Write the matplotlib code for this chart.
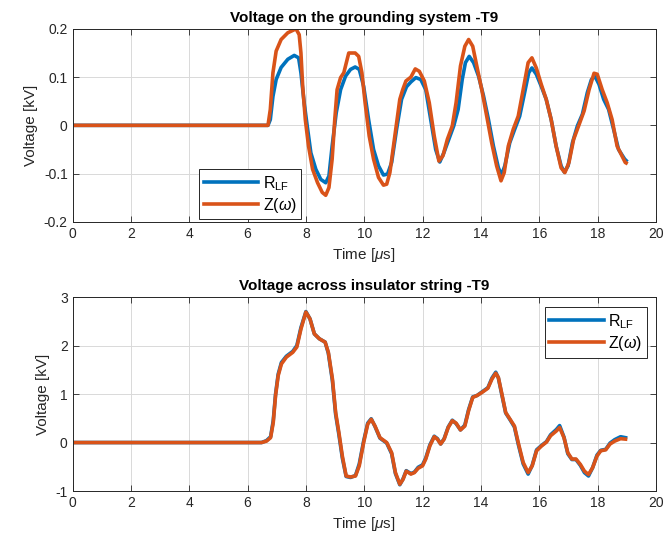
import matplotlib
matplotlib.use("Agg")
import matplotlib.pyplot as plt
import numpy as np

plt.rcParams['font.family'] = ['Liberation Sans', 'DejaVu Sans']
plt.rcParams['mathtext.fontset'] = 'custom'
plt.rcParams['mathtext.rm'] = 'Liberation Sans'
plt.rcParams['mathtext.it'] = 'Liberation Sans:italic'

c_rlf = '#0072BD'
c_z = '#D95319'
ax_col = '#262626'

# grounding system voltage [kV], time in us
t_g_rlf = [0, 6.70, 6.78, 6.87, 6.98, 7.15, 7.38, 7.6, 7.75, 7.83, 7.94, 8.06, 8.17, 8.34,
           8.51, 8.68, 8.79, 8.9, 9.04, 9.19, 9.36, 9.53, 9.69, 9.83, 9.98, 10.15, 10.32,
           10.49, 10.66, 10.8, 10.94, 11.11, 11.28, 11.45, 11.6, 11.77, 11.94, 12.11, 12.28,
           12.45, 12.59, 12.73, 12.9, 13.07, 13.22, 13.36, 13.47, 13.6, 13.75, 13.92, 14.09,
           14.26, 14.43, 14.6, 14.71, 14.82, 14.99, 15.16, 15.33, 15.5, 15.64, 15.75, 15.9,
           16.07, 16.24, 16.41, 16.58, 16.75, 16.86, 16.99, 17.14, 17.31, 17.48, 17.65, 17.79,
           17.91, 18.05, 18.21, 18.38, 18.55, 18.72, 18.93, 18.98]
v_g_rlf = [0, 0, 0.012, 0.06, 0.095, 0.12, 0.137, 0.145, 0.14, 0.109, 0.047, -0.008, -0.057, -0.091,
           -0.112, -0.119, -0.105, -0.043, 0.026, 0.074, 0.102, 0.116, 0.121, 0.116, 0.081, 0.012, -0.05,
           -0.084, -0.103, -0.101, -0.077, -0.008, 0.054, 0.08, 0.09, 0.099, 0.095, 0.074, 0.012,
           -0.05, -0.076, -0.057, -0.029, -0.001, 0.033, 0.095, 0.13, 0.143, 0.13, 0.102, 0.061,
           0.012, -0.043, -0.088, -0.103, -0.084, -0.036, -0.008, 0.019, 0.068, 0.109, 0.119, 0.106,
           0.081, 0.054, 0.012, -0.043, -0.084, -0.097, -0.084, -0.036, -0.001, 0.023, 0.068, 0.095,
           0.102, 0.085, 0.054, 0.033, -0.008, -0.05, -0.07, -0.073]

t_g_z = [0, 6.70, 6.78, 6.87, 6.98, 7.15, 7.38, 7.66, 7.77, 7.83, 7.89, 7.98, 8.09, 8.23, 8.4,
         8.56, 8.68, 8.79, 8.9, 8.99, 9.07, 9.19, 9.3, 9.47, 9.69, 9.81, 9.92, 10.03, 10.17,
         10.32, 10.49, 10.66, 10.77, 10.88, 11.05, 11.22, 11.32, 11.43, 11.6, 11.75, 11.89,
         12.06, 12.23, 12.4, 12.56, 12.7, 12.85, 13.02, 13.15, 13.3, 13.45, 13.58, 13.72,
         13.86, 14.03, 14.2, 14.37, 14.54, 14.69, 14.8, 14.94, 15.11, 15.28, 15.45, 15.62,
         15.75, 15.9, 16.07, 16.24, 16.41, 16.58, 16.75, 16.88, 17.02, 17.18, 17.37, 17.54,
         17.71, 17.88, 17.99, 18.16, 18.33, 18.5, 18.67, 18.95, 18.98]
v_g_z = [0, 0, 0.033, 0.109, 0.154, 0.178, 0.192, 0.2, 0.188, 0.15, 0.081, 0.012, -0.043, -0.091, -0.119,
         -0.139, -0.145, -0.129, -0.07, 0.012, 0.074, 0.099, 0.109, 0.15, 0.15, 0.143, 0.109, 0.047, -0.022,
         -0.07, -0.108, -0.124, -0.122, -0.098, -0.022, 0.054, 0.074, 0.092, 0.1, 0.117, 0.112,
         0.092, 0.047, -0.022, -0.074, -0.063, -0.029, -0.001, 0.047, 0.123, 0.164, 0.178, 0.164,
         0.123, 0.074, 0.019, -0.036, -0.084, -0.115, -0.098, -0.043, -0.008, 0.019, 0.074, 0.13,
         0.14, 0.119, 0.085, 0.054, 0.012, -0.043, -0.088, -0.098, -0.077, -0.029, 0.002, 0.03,
         0.074, 0.108, 0.106, 0.074, 0.047, 0.012, -0.043, -0.077, -0.078]

# insulator string voltage [kV]
t_i = [0, 6.48, 6.65, 6.79, 6.88, 6.96, 7.05, 7.16, 7.33, 7.55, 7.69, 7.83, 8.0, 8.14, 8.29,
       8.46, 8.66, 8.77, 8.91, 9.02, 9.13, 9.25, 9.38, 9.53, 9.7, 9.83, 9.98, 10.12, 10.24,
       10.37, 10.54, 10.77, 10.94, 11.07, 11.22, 11.33, 11.44, 11.6, 11.72, 11.85, 12.0,
       12.11, 12.25, 12.4, 12.51, 12.62, 12.74, 12.88, 13.02, 13.15, 13.3, 13.45, 13.58,
       13.72, 13.87, 14.03, 14.24, 14.38, 14.51, 14.6, 14.72, 14.85, 15.0, 15.15, 15.28,
       15.45, 15.62, 15.76, 15.91, 16.08, 16.25, 16.39, 16.59, 16.7, 16.85, 16.98, 17.12,
       17.26, 17.41, 17.55, 17.69, 17.83, 17.98, 18.11, 18.28, 18.43, 18.59, 18.79, 18.96]
v_i_rlf = [0, 0, 0.04, 0.12, 0.45, 1.0, 1.41, 1.65, 1.78, 1.88, 2.0, 2.37, 2.7, 2.55, 2.24,
           2.14, 2.07, 1.84, 1.27, 0.58, 0.17, -0.32, -0.7, -0.72, -0.68, -0.44, 0.03, 0.4, 0.49,
           0.33, 0.09, -0.01, -0.23, -0.64, -0.87, -0.75, -0.58, -0.64, -0.61, -0.51, -0.46,
           -0.32, -0.05, 0.13, 0.08, -0.03, 0.08, 0.32, 0.46, 0.39, 0.26, 0.36, 0.68,
           0.94, 0.97, 1.04, 1.13, 1.33, 1.45, 1.33, 0.98, 0.61, 0.47, 0.32, -0.03,
           -0.44, -0.65, -0.47, -0.15, -0.06, 0.02, 0.16, 0.27, 0.35, 0.11, -0.23, -0.35,
           -0.35, -0.47, -0.62, -0.69, -0.52, -0.26, -0.16, -0.14, -0.01, 0.06, 0.12, 0.1]
v_i_z = [0, 0, 0.03, 0.1, 0.41, 0.97, 1.38, 1.62, 1.76, 1.86, 1.97, 2.34, 2.69, 2.55, 2.24,
         2.14, 2.07, 1.86, 1.31, 0.62, 0.21, -0.28, -0.69, -0.71, -0.69, -0.48, 0.0, 0.38, 0.48,
         0.34, 0.1, 0.0, -0.21, -0.62, -0.86, -0.76, -0.59, -0.65, -0.62, -0.53, -0.48,
         -0.34, -0.07, 0.12, 0.07, -0.03, 0.07, 0.31, 0.45, 0.4, 0.26, 0.34, 0.66,
         0.93, 0.97, 1.03, 1.12, 1.31, 1.43, 1.34, 1.0, 0.62, 0.48, 0.34, 0.0,
         -0.41, -0.62, -0.48, -0.17, -0.07, 0.01, 0.14, 0.24, 0.31, 0.1, -0.21, -0.34,
         -0.34, -0.45, -0.59, -0.66, -0.52, -0.28, -0.17, -0.15, -0.03, 0.03, 0.08, 0.07]

fig = plt.figure(figsize=(6.72, 5.45), dpi=100)
ax1 = fig.add_axes([0.108, 0.593, 0.868, 0.354])
ax2 = fig.add_axes([0.108, 0.099, 0.868, 0.356])

def style(ax, yticks, ylabels):
    ax.set_xlim(0, 20)
    ax.set_xticks(np.arange(0, 21, 2))
    ax.set_yticks(yticks)
    ax.set_yticklabels(ylabels)
    ax.set_ylim(yticks[0], yticks[-1])
    ax.grid(True, color='#d9d9d9', linewidth=0.7)
    ax.set_axisbelow(True)
    ax.tick_params(direction='in', top=True, right=True, length=4, width=0.6,
                   colors=ax_col, labelsize=10, labelcolor=ax_col)
    for s in ax.spines.values():
        s.set_color(ax_col)
        s.set_linewidth(0.7)
    ax.set_xlabel(r'Time [$\mu$s]', fontsize=11, color=ax_col)
    ax.set_ylabel('Voltage [kV]', fontsize=11, color=ax_col)

def add_legend(ax, loc, anchor):
    leg = ax.legend(loc=loc, bbox_to_anchor=anchor, fontsize=11.5,
                    handlelength=3.4, fancybox=False, edgecolor=ax_col, framealpha=1,
                    borderpad=0.3, labelspacing=0.2, handletextpad=0.3, borderaxespad=0)
    leg.get_frame().set_linewidth(0.7)

lw = 2.6
ax1.plot(t_g_rlf, v_g_rlf, color=c_rlf, lw=lw, label=r'R$_{\mathrm{LF}}$')
ax1.plot(t_g_z, v_g_z, color=c_z, lw=lw, label=r'Z($\omega$)')
style(ax1, [-0.2, -0.1, 0, 0.1, 0.2], ['-0.2', '-0.1', '0', '0.1', '0.2'])
ax1.set_title('Voltage on the grounding system -T9', fontsize=11, fontweight='bold', pad=5)
add_legend(ax1, 'lower left', (0.2165, 0.012))

ax2.plot(t_i, v_i_rlf, color=c_rlf, lw=lw, label=r'R$_{\mathrm{LF}}$')
ax2.plot(t_i, v_i_z, color=c_z, lw=lw, label=r'Z($\omega$)')
style(ax2, [-1, 0, 1, 2, 3], ['-1', '0', '1', '2', '3'])
ax2.set_title('Voltage across insulator string -T9', fontsize=11, fontweight='bold', pad=5)
add_legend(ax2, 'upper right', (0.985, 0.948))

fig.savefig('out.png', dpi=100)
